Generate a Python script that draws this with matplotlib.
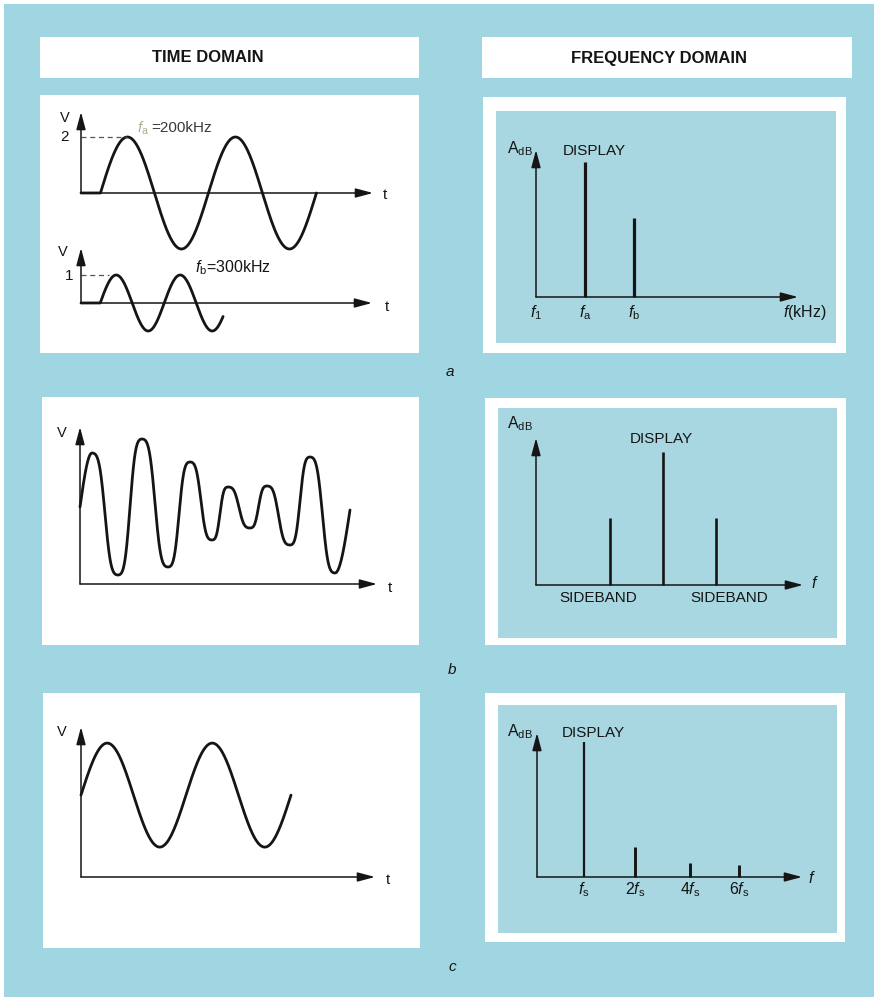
import numpy as np
import matplotlib
matplotlib.use("Agg")
import matplotlib.pyplot as plt
from matplotlib.patches import Rectangle

plt.rcParams['font.family'] = ['Liberation Sans', 'DejaVu Sans']
plt.rcParams['mathtext.fontset'] = 'custom'
plt.rcParams['mathtext.rm'] = 'Liberation Sans'
plt.rcParams['mathtext.it'] = 'Liberation Sans:italic'
plt.rcParams['mathtext.bf'] = 'Liberation Sans:bold'

# ---------------- data ----------------
# (a) time domain: two sine waves
fa_khz = 200
fb_khz = 300
amp_a = 2.0
amp_b = 1.0
start_a_us = 0.9
start_b_us = 1.0
cycles_a = 2.0
cycles_b = 1.92

# (b) time domain: complex waveform (turning points)
wave_b_t = [0, 1.2, 3.8, 6.2, 8.8, 11.0, 13.2, 14.8, 17.0, 18.7, 21.0, 23.0, 25.5, 27.0]
wave_b_v = [7.7, 13.1, 0.9, 14.5, 1.7, 12.2, 4.4, 9.7, 5.6, 9.8, 3.9, 12.7, 1.1, 7.4]

# (c) time domain: single sine with offset
fc_khz = 200
amp_c = 2.0
offset_c = 3.15
cycles_c = 2.0

# (a) frequency domain
spec_a_tick_freqs = [100, 200, 300]
spec_a_tick_labels = [r'$f_1$', r'$f_\mathrm{a}$', r'$f_\mathrm{b}$']
spec_a_freqs = [200, 300]
spec_a_levels = [100, 58.5]

# (b) frequency domain
spec_b_freqs = [1.4, 2.4, 3.4]
spec_b_levels = [50, 98.5, 50]

# (c) frequency domain
spec_c_freqs = [0.94, 1.96, 3.06, 4.04]
spec_c_levels = [100, 22, 10.5, 9]
spec_c_labels = [r'$f_\mathrm{s}$', r'$2f_\mathrm{s}$', r'$4f_\mathrm{s}$', r'$6f_\mathrm{s}$']

# ---------------- layout ----------------
W, H = 874, 997
BG = '#a0d6e2'
INNER = '#a8d7e1'
INK = '#151515'

fig = plt.figure(figsize=(W / 100, H / 100), dpi=100)
fig.patch.set_facecolor(BG)
bg = fig.add_axes([0, 0, 1, 1])
bg.set_xlim(0, W)
bg.set_ylim(H, 0)
bg.axis('off')
bg.set_facecolor(BG)


def rect(x0, y0, x1, y1, color):
    bg.add_patch(Rectangle((x0, y0), x1 - x0, y1 - y0, facecolor=color, edgecolor='none'))


# scan border
rect(0, 0, W, 4, 'white')
rect(0, 0, 4, H, 'white')

# headers
rect(40, 37, 419, 78, 'white')
rect(482, 37, 852, 78, 'white')
hdr_font = ['Liberation Sans Narrow', 'Liberation Sans']
bg.text(208, 57, 'TIME DOMAIN', ha='center', va='center', fontsize=12, fontweight='bold',
        family=hdr_font, color=INK)
bg.text(659, 58, 'FREQUENCY DOMAIN', ha='center', va='center', fontsize=12, fontweight='bold',
        family=hdr_font, color=INK)

# left white panels
rect(40, 95, 419, 353, 'white')
rect(42, 397, 419, 645, 'white')
rect(43, 693, 420, 948, 'white')
# right framed panels
for (o, i) in [((483, 97, 846, 353), (496, 111, 836, 343)),
               ((485, 398, 846, 645), (498, 408, 837, 638)),
               ((485, 693, 845, 942), (498, 705, 837, 933))]:
    rect(*o, 'white')
    rect(*i, INNER)

# panel letters
for x, y, s in [(450, 372, 'a'), (452, 670, 'b'), (452, 967, 'c')]:
    bg.text(x, y, s, ha='center', va='center', fontsize=11, style='italic', color=INK)


def sub_axes(box, origin_px, sx, sy, origin_data=(0.0, 0.0)):
    x0, y0, x1, y1 = box
    ax = fig.add_axes([x0 / W, 1 - y1 / H, (x1 - x0) / W, (y1 - y0) / H])
    ox, oy = origin_px
    dx, dy = origin_data
    ax.set_xlim(dx + (x0 - ox) / sx, dx + (x1 - ox) / sx)
    ax.set_ylim(dy + (oy - y1) / sy, dy + (oy - y0) / sy)
    ax.axis('off')
    ax.patch.set_alpha(0)
    return ax


def arrow(ax, p0, p1, lw=1.1):
    ax.annotate('', xy=p1, xytext=p0,
                arrowprops=dict(arrowstyle='-|>,head_length=0.75,head_width=0.2',
                                mutation_scale=14, lw=lw, color=INK,
                                shrinkA=0, shrinkB=0))


def draw_axes(ax, x0, y0, xtip, ytip):
    arrow(ax, (x0, y0), (xtip, y0))
    arrow(ax, (x0, y0), (x0, ytip))


def smooth(tk, vk, n=80):
    # rounded, flat-topped transitions between successive turning points
    ts, vs = [], []
    last = len(tk) - 2
    for i in range(len(tk) - 1):
        u = np.linspace(0, 1, n)
        if i == 0:
            s = np.sin(u * np.pi / 2)
        elif i == last:
            s = 1 - np.cos(u * np.pi / 2)
        else:
            s1 = (1 - np.cos(np.pi * u)) / 2
            s = 0.2 * s1 + 0.8 * (1 - np.cos(np.pi * s1)) / 2
        ts.append(tk[i] + (tk[i + 1] - tk[i]) * u)
        vs.append(vk[i] + (vk[i + 1] - vk[i]) * s)
    return np.concatenate(ts), np.concatenate(vs)


WAVE_LW = 2.0

# ---- (a) time domain, top wave ----
ax = sub_axes((45, 100, 415, 255), (81, 193), 21.6, 28)
Ta = 1000.0 / fa_khz
t = np.linspace(0, start_a_us + cycles_a * Ta, 800)
v = np.where(t < start_a_us, 0.0, amp_a * np.sin(2 * np.pi * (t - start_a_us) / Ta))
ax.plot(t, v, color=INK, lw=WAVE_LW, solid_capstyle='round')
draw_axes(ax, 0, 0, (373 - 81) / 21.6, (193 - 112) / 28)
ax.plot([0, start_a_us + Ta / 4], [amp_a, amp_a], color='#555555', lw=0.9, dashes=(4, 3))
ax.text(-0.75, amp_a, '2', ha='center', va='center', fontsize=11, color=INK)
bg.text(65, 118, 'V', ha='center', va='center', fontsize=10.5, color=INK)
bg.text(385, 195, 't', ha='center', va='center', fontsize=11, color=INK)
bg.text(149, 128, r'$f_\mathrm{a}$', ha='right', va='center', fontsize=11, color='#b0ab95')
bg.text(151, 128, '=200kHz', ha='left', va='center', fontsize=11, color='#3a3a3a')

# ---- (a) time domain, bottom wave ----
ax = sub_axes((45, 240, 415, 345), (81, 303), 19.2, 28)
Tb = 1000.0 / fb_khz
t = np.linspace(0, start_b_us + cycles_b * Tb, 600)
v = np.where(t < start_b_us, 0.0, amp_b * np.sin(2 * np.pi * (t - start_b_us) / Tb))
ax.plot(t, v, color=INK, lw=WAVE_LW, solid_capstyle='round')
draw_axes(ax, 0, 0, (372 - 81) / 19.2, (303 - 248) / 28)
ax.plot([0, start_b_us + Tb / 4 - 0.4], [amp_b, amp_b], color='#555555', lw=0.9, dashes=(4, 3))
bg.text(69, 276, '1', ha='center', va='center', fontsize=11, color=INK)
bg.text(63, 252, 'V', ha='center', va='center', fontsize=10.5, color=INK)
bg.text(387, 307, 't', ha='center', va='center', fontsize=11, color=INK)
bg.text(195, 268, r'$f_\mathrm{b}$=300kHz', ha='left', va='center', fontsize=11.5, color=INK)

# ---- (b) time domain ----
ax = sub_axes((45, 405, 415, 625), (80, 584), 10, 10)
tb, vb = smooth(wave_b_t, wave_b_v)
ax.plot(tb, vb, color=INK, lw=WAVE_LW, solid_capstyle='round')
draw_axes(ax, 0, 0, (377 - 80) / 10, (584 - 427) / 10)
bg.text(62, 433, 'V', ha='center', va='center', fontsize=10.5, color=INK)
bg.text(390, 588, 't', ha='center', va='center', fontsize=11, color=INK)

# ---- (c) time domain ----
ax = sub_axes((45, 700, 415, 920), (81, 877), 21, 26)
Tc = 1000.0 / fc_khz
t = np.linspace(0, cycles_c * Tc, 600)
v = offset_c + amp_c * np.sin(2 * np.pi * t / Tc)
ax.plot(t, v, color=INK, lw=WAVE_LW, solid_capstyle='round')
draw_axes(ax, 0, 0, (375 - 81) / 21, (877 - 727) / 26)
bg.text(62, 732, 'V', ha='center', va='center', fontsize=10.5, color=INK)
bg.text(388, 880, 't', ha='center', va='center', fontsize=11, color=INK)

# ---- (a) frequency domain ----
ax = sub_axes((500, 115, 835, 340), (536, 297), 0.49, 1.35, origin_data=(100, 0))
draw_axes(ax, 100, 0, 100 + (798 - 536) / 0.49, (297 - 150) / 1.35)
ax.vlines(spec_a_freqs, 0, spec_a_levels, color=INK, lw=2.3)
for f, lab in zip(spec_a_tick_freqs, spec_a_tick_labels):
    ax.annotate(lab, xy=(f, 0), xytext=(0, -11), textcoords='offset points',
                ha='center', va='center', fontsize=11.5, color=INK)
ax.annotate(r'$f$(kHz)', xy=(100 + (805 - 536) / 0.49, 0), xytext=(0, -11.5),
            textcoords='offset points', ha='center', va='center', fontsize=11.5, color=INK)
bg.text(533, 149, r'$\mathrm{A_{dB}}$', ha='right', va='center', fontsize=11.5, color=INK)
bg.text(594, 151, 'DISPLAY', ha='center', va='center', fontsize=11, color=INK)

# ---- (b) frequency domain ----
ax = sub_axes((500, 412, 835, 630), (536, 585), 53, 1.35)
draw_axes(ax, 0, 0, (803 - 536) / 53, (585 - 438) / 1.35)
ax.vlines(spec_b_freqs, 0, spec_b_levels, color=INK, lw=1.9)
bg.text(533, 424, r'$\mathrm{A_{dB}}$', ha='right', va='center', fontsize=11.5, color=INK)
bg.text(661, 439, 'DISPLAY', ha='center', va='center', fontsize=11, color=INK)
bg.text(598, 598, 'SIDEBAND', ha='center', va='center', fontsize=11, color=INK)
bg.text(729, 598, 'SIDEBAND', ha='center', va='center', fontsize=11, color=INK)
bg.text(815, 583, r'$f$', ha='center', va='center', fontsize=11.5, color=INK)

# ---- (c) frequency domain ----
ax = sub_axes((500, 710, 835, 925), (537, 877), 50, 1.35)
draw_axes(ax, 0, 0, (802 - 537) / 50, (877 - 733) / 1.35)
ax.vlines(spec_c_freqs[:1], 0, spec_c_levels[:1], color=INK, lw=1.6)
ax.vlines(spec_c_freqs[1:], 0, spec_c_levels[1:], color=INK, lw=2.1)
for f, lab in zip(spec_c_freqs, spec_c_labels):
    ax.annotate(lab, xy=(f, 0), xytext=(0, -9), textcoords='offset points',
                ha='center', va='center', fontsize=11.5, color=INK)
bg.text(533, 732, r'$\mathrm{A_{dB}}$', ha='right', va='center', fontsize=11.5, color=INK)
bg.text(593, 733, 'DISPLAY', ha='center', va='center', fontsize=11, color=INK)
bg.text(812, 878, r'$f$', ha='center', va='center', fontsize=11.5, color=INK)

fig.savefig('out.png', dpi=100, facecolor=BG)
